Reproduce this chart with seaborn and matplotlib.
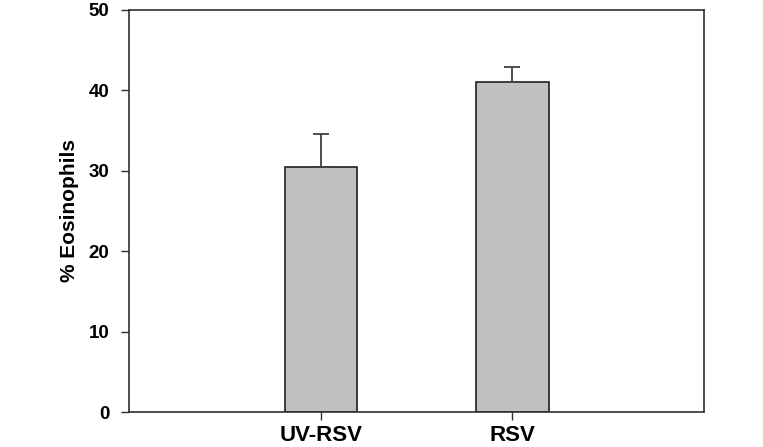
import numpy as np
import pandas as pd
import matplotlib
matplotlib.use("Agg")
import matplotlib.pyplot as plt
import seaborn as sns

groups = ["UV-RSV", "RSV"]
eos_pct = [30.5, 41.0]
eos_sem = [4.1, 1.9]

sns.set_style("white")
plt.rcParams["font.family"] = ["Liberation Sans", "DejaVu Sans"]
plt.rcParams["font.weight"] = "bold"
plt.rcParams["text.color"] = "black"
plt.rcParams["axes.labelcolor"] = "black"
plt.rcParams["xtick.color"] = "black"
plt.rcParams["ytick.color"] = "black"

df = pd.DataFrame({"group": groups, "eos": eos_pct})

fig = plt.figure(figsize=(7.63, 4.47), dpi=100)
ax = fig.add_axes([0.169, 0.078, 0.754, 0.900])

sns.barplot(data=df, x="group", y="eos", color="#c0c0c0", width=0.377,
            edgecolor="#202020", linewidth=1.2, saturation=1, errorbar=None, ax=ax)

# only the upper half of the error bar is drawn
ax.errorbar(np.arange(len(groups)), eos_pct, yerr=[[0] * len(groups), eos_sem],
            fmt="none", ecolor="#404040", elinewidth=1.3, capsize=6, capthick=1.3)

ax.set_xlim(-1.0, 2.0)
ax.set_ylim(0, 50)
ax.set_yticks([0, 10, 20, 30, 40, 50])
ax.set_xlabel("")
ax.set_ylabel("% Eosinophils", fontsize=15, fontweight="bold", labelpad=7)

for s in ax.spines.values():
    s.set_color("#303030")
    s.set_linewidth(1.2)

ax.tick_params(axis="y", direction="out", length=6, width=1, color="#303030",
               labelcolor="black", labelsize=13.5, pad=8, left=True)
ax.tick_params(axis="x", direction="out", length=6, width=1, color="#303030",
               labelcolor="black", labelsize=16, pad=3, bottom=True)
for lab in ax.get_xticklabels() + ax.get_yticklabels():
    lab.set_fontweight("bold")

fig.savefig("out.png", dpi=100)
